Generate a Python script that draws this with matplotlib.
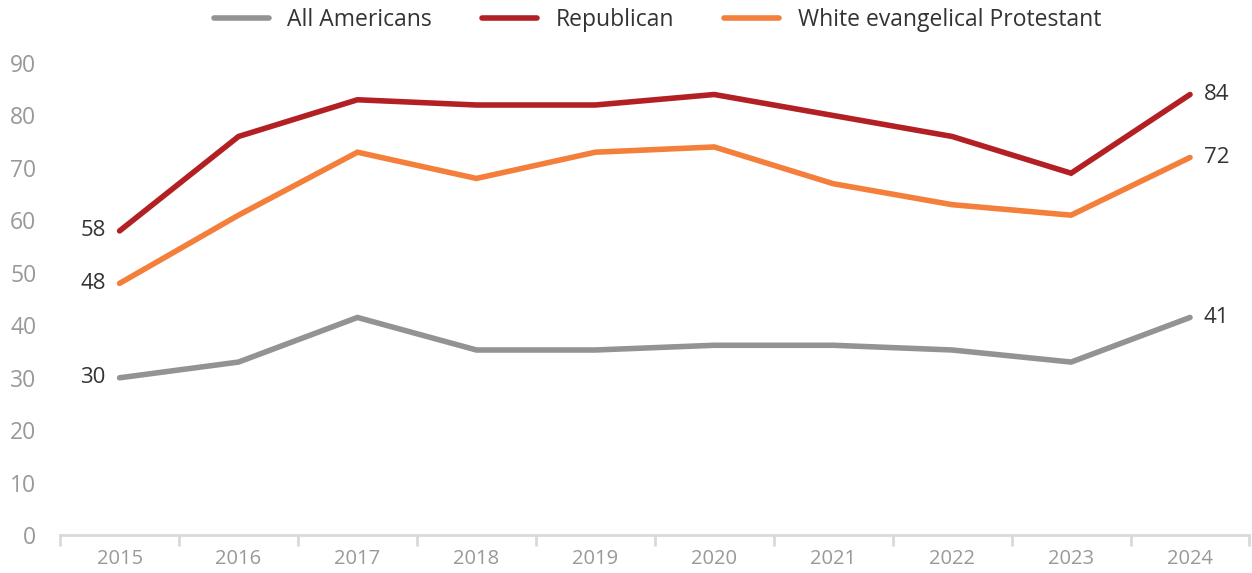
import numpy as np
import matplotlib.pyplot as plt

plt.rcParams['font.family'] = ['Open Sans', 'DejaVu Sans']

years = ['2015', '2016', '2017', '2018', '2019', '2020', '2021', '2022', '2023', '2024']
all_americans = [30, 33, 41.5, 35.3, 35.3, 36.2, 36.2, 35.3, 33, 41.5]
republican = [58, 76, 83, 82, 82, 84, 80, 76, 69, 84]
white_evangelical = [48, 61, 73, 68, 73, 74, 67, 63, 61, 72]

start_labels = ['30', '58', '48']
end_labels = ['41', '84', '72']

series = [
    ('All Americans', all_americans, '#939393'),
    ('Republican', republican, '#b22024'),
    ('White evangelical Protestant', white_evangelical, '#f47f3b'),
]

fig = plt.figure(figsize=(12.52, 5.73), dpi=100)
ax = fig.add_axes([0.048, 0.066, 0.95, 0.824])

x = np.arange(len(years))
for i, (name, vals, col) in enumerate(series):
    ax.plot(x, vals, color=col, lw=4, label=name, solid_capstyle='round', solid_joinstyle='miter')
    ax.annotate(start_labels[i], (x[0], vals[0]), xytext=(-10, 0), textcoords='offset points',
                ha='right', va='center', fontsize=16, color='#333333')
    ax.annotate(end_labels[i], (x[-1], vals[-1]), xytext=(10, 0), textcoords='offset points',
                ha='left', va='center', fontsize=16, color='#333333')

ax.set_xlim(-0.5, 9.5)
ax.set_ylim(0, 90)
ax.set_yticks(range(0, 91, 10))
ax.set_xticks(x)
ax.set_xticklabels(years)
ax.set_xticks(np.arange(-0.5, 10, 1), minor=True)

for s in ['top', 'right', 'left']:
    ax.spines[s].set_visible(False)
ax.spines['bottom'].set_color('#d9d9d9')
ax.spines['bottom'].set_linewidth(2)

ax.tick_params(axis='y', length=0, pad=17, labelsize=16.5, labelcolor='#999999')
ax.tick_params(axis='x', which='major', length=0, pad=10, labelsize=14.5, labelcolor='#999999')
ax.tick_params(axis='x', which='minor', length=8, width=2, color='#d9d9d9')

leg = fig.legend(loc='upper center', bbox_to_anchor=(0.525, 1.022), ncol=3, frameon=False,
                 fontsize=16.5, handlelength=2.4, columnspacing=2.2, handletextpad=0.8)
for t in leg.get_texts():
    t.set_color('#333333')

fig.savefig('out.png', dpi=100)
